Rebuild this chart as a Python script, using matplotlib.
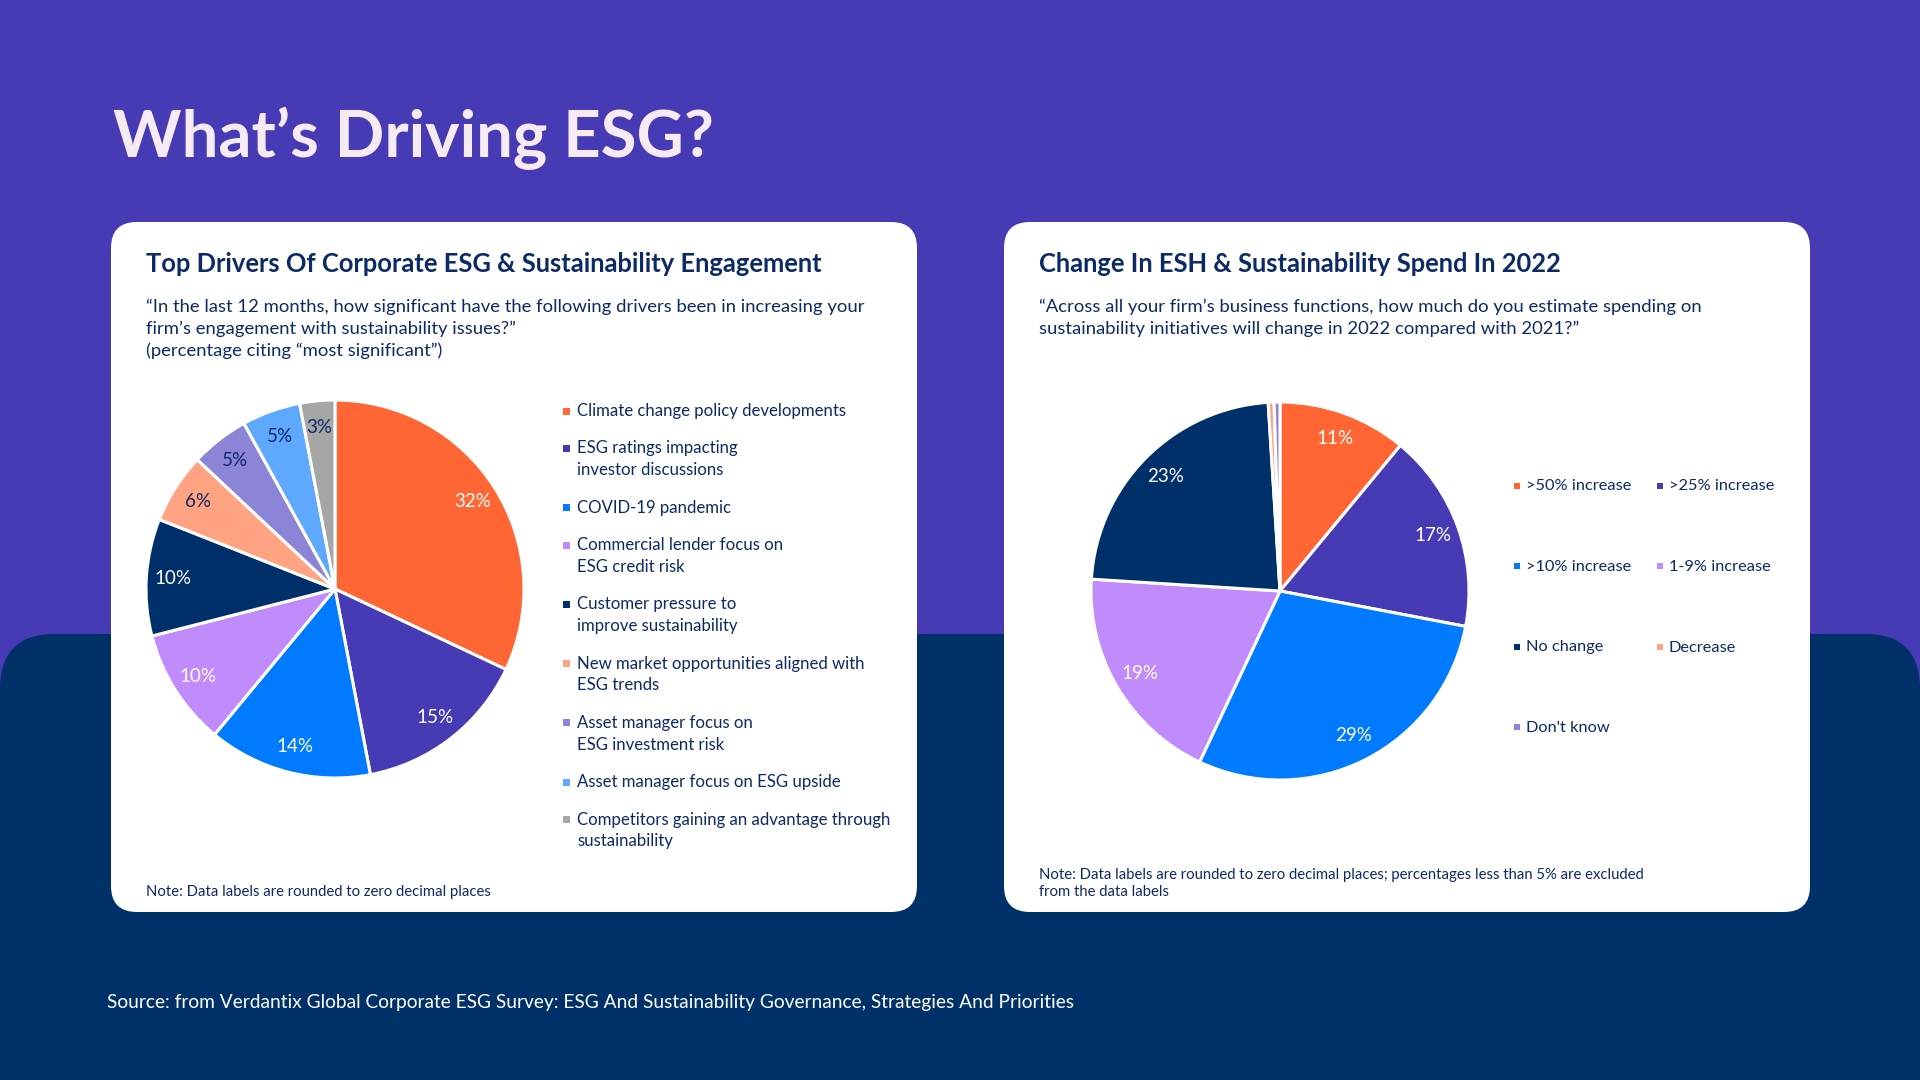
import matplotlib
matplotlib.use('Agg')
import matplotlib.pyplot as plt
from matplotlib.patches import FancyBboxPatch, Rectangle

# ---- data ----
driver_labels = [
    'Climate change policy developments',
    'ESG ratings impacting\ninvestor discussions',
    'COVID-19 pandemic',
    'Commercial lender focus on\nESG credit risk',
    'Customer pressure to\nimprove sustainability',
    'New market opportunities aligned with\nESG trends',
    'Asset manager focus on\nESG investment risk',
    'Asset manager focus on ESG upside',
    'Competitors gaining an advantage through\nsustainability',
]
driver_values = [32, 15, 14, 10, 10, 6, 5, 5, 3]
driver_colors = ['#FF6633', '#473AB5', '#007BFF', '#C08BFA', '#003069',
                 '#FFA382', '#8C84D6', '#5EA9FF', '#A6A6A6']
driver_label_colors = ['white', 'white', 'white', 'white', 'white',
                       '#0B2A66', '#0B2A66', '#0B2A66', '#0B2A66']

spend_labels = ['>50% increase', '>25% increase', '>10% increase', '1-9% increase',
                'No change', 'Decrease', "Don't know"]
spend_values = [11, 17, 29, 19, 23, 0.5, 0.5]
spend_colors = ['#FF6633', '#473AB5', '#007BFF', '#C08BFA', '#003069',
                '#FFA382', '#8C84D6']

PURPLE = '#473BB5'
NAVY = '#003169'
TEXT = '#0B2A66'
FONT = 'Lato'

fig = plt.figure(figsize=(19.2, 10.8), dpi=100, facecolor=PURPLE)
bg = fig.add_axes([0, 0, 1, 1])
bg.set_xlim(0, 1920)
bg.set_ylim(1080, 0)
bg.axis('off')

# navy lower band with rounded top corners
bg.add_patch(FancyBboxPatch((0, 634), 1920, 600, boxstyle='round,pad=0,rounding_size=55',
                            facecolor=NAVY, edgecolor='none'))

# white cards
for x0 in (111, 1004):
    bg.add_patch(FancyBboxPatch((x0, 222), 806, 690, boxstyle='round,pad=0,rounding_size=26',
                                facecolor='white', edgecolor='none'))

bg.text(113, 157, 'What\u2019s Driving ESG?', fontsize=47, fontweight='bold',
        color='#F6EAF3', family=FONT, va='baseline')

# left card texts
bg.text(146, 272, 'Top Drivers Of Corporate ESG & Sustainability Engagement', fontsize=18.4,
        fontweight='bold', color=TEXT, family=FONT, va='baseline')
sub_left = ['\u201cIn the last 12 months, how significant have the following drivers been in increasing your',
            'firm\u2019s engagement with sustainability issues?\u201d',
            '(percentage citing \u201cmost significant\u201d)']
for i, line in enumerate(sub_left):
    bg.text(146, 312 + 22 * i, line, fontsize=13.3, color=TEXT, family=FONT, va='baseline')
bg.text(146, 896, 'Note: Data labels are rounded to zero decimal places', fontsize=10.7,
        color=TEXT, family=FONT, va='baseline')

# right card texts
bg.text(1039, 272, 'Change In ESH & Sustainability Spend In 2022', fontsize=18.4,
        fontweight='bold', color=TEXT, family=FONT, va='baseline')
sub_right = ['\u201cAcross all your firm\u2019s business functions, how much do you estimate spending on',
             'sustainability initiatives will change in 2022 compared with 2021?\u201d']
for i, line in enumerate(sub_right):
    bg.text(1039, 312 + 22 * i, line, fontsize=13.3, color=TEXT, family=FONT, va='baseline')
bg.text(1039, 879, 'Note: Data labels are rounded to zero decimal places; percentages less than 5% are excluded',
        fontsize=10.7, color=TEXT, family=FONT, va='baseline')
bg.text(1039, 896, 'from the data labels', fontsize=10.7, color=TEXT, family=FONT, va='baseline')

bg.text(107, 1008, 'Source: from Verdantix Global Corporate ESG Survey: ESG And Sustainability Governance, Strategies And Priorities',
        fontsize=13.8, color='white', family=FONT, va='baseline')


def pie_axes(cx, cy, r):
    pad = 1.03
    w = 2 * r * pad
    ax = fig.add_axes([(cx - w / 2) / 1920, 1 - (cy + w / 2) / 1080, w / 1920, w / 1080])
    return ax, pad


def finish_pie(ax, pad):
    ax.set_xlim(-pad, pad)
    ax.set_ylim(-pad, pad)
    ax.set_aspect('equal')
    ax.axis('off')


# left pie
axl, pad = pie_axes(335, 589, 189)
wedges, _, autotexts = axl.pie(driver_values, colors=driver_colors, startangle=90, counterclock=False,
                               autopct=lambda p: f'{p:.0f}%', pctdistance=0.86, radius=1,
                               wedgeprops=dict(edgecolor='white', linewidth=2.2))
for t, c in zip(autotexts, driver_label_colors):
    t.set_color(c)
    t.set_fontsize(13.5)
    t.set_family(FONT)
finish_pie(axl, pad)

# left legend
y = 411
for lab, col in zip(driver_labels, driver_colors):
    bg.add_patch(Rectangle((563, y - 3.5), 7, 7, facecolor=col, edgecolor='none'))
    lines = lab.split('\n')
    for k, line in enumerate(lines):
        bg.text(577, y + 5 + 21.7 * k, line, fontsize=12.1, color=TEXT, family=FONT, va='baseline')
    y += 37.5 + 21.7 * (len(lines) - 1)

# right pie
axr, pad = pie_axes(1280, 591, 189)
wedges, _, autotexts = axr.pie(spend_values, colors=spend_colors, startangle=90, counterclock=False,
                               autopct=lambda p: f'{p:.0f}%' if p >= 5 else '', pctdistance=0.86,
                               radius=1, wedgeprops=dict(edgecolor='white', linewidth=2.2))
for t in autotexts:
    t.set_color('white')
    t.set_fontsize(13.5)
    t.set_family(FONT)
finish_pie(axr, pad)

# right legend, two columns
for i, (lab, col) in enumerate(zip(spend_labels, spend_colors)):
    lx = 1514 if i % 2 == 0 else 1657
    ly = 485.5 + 80.5 * (i // 2)
    bg.add_patch(Rectangle((lx, ly - 3), 6, 6, facecolor=col, edgecolor='none'))
    bg.text(lx + 12, ly + 5, lab, fontsize=11.8, color=TEXT, family=FONT, va='baseline')

fig.savefig('out.png', dpi=100, facecolor=PURPLE)
